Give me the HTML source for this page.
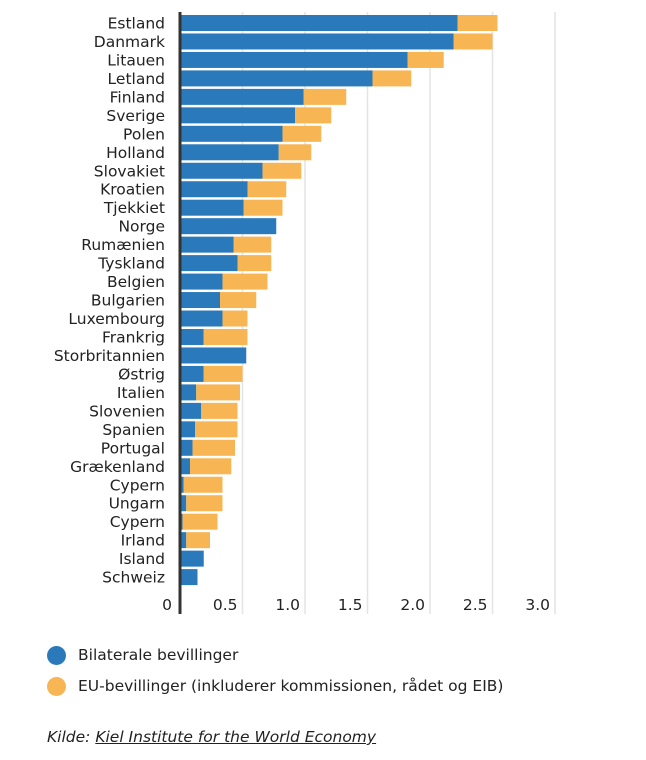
<!DOCTYPE html>
<html><head><meta charset="utf-8"><style>
body{margin:0;width:646px;height:760px;background:#fff;font-family:"DejaVu Sans","Liberation Sans",sans-serif;color:#222;overflow:hidden}
</style></head><body>
<svg id="chart" width="646" height="620" style="position:absolute;left:0;top:0;font-family:'DejaVu Sans','Liberation Sans',sans-serif"></svg>
<div style="position:absolute;left:47px;top:643px;font-size:15.5px">
 <div style="display:flex;align-items:center;height:24px"><span style="width:19px;height:19px;border-radius:50%;background:#2a7abb;display:inline-block;margin-right:12px"></span>Bilaterale bevillinger</div>
 <div style="display:flex;align-items:center;height:24px;margin-top:7px"><span style="width:19px;height:19px;border-radius:50%;background:#f8b553;display:inline-block;margin-right:12px"></span>EU-bevillinger (inkluderer kommissionen, rådet og EIB)</div>
</div>
<div style="position:absolute;left:47px;top:728px;font-size:15.5px;font-style:italic">Kilde: <span style="text-decoration:underline">Kiel Institute for the World Economy</span></div>
<script>
const categories=["Estland","Danmark","Litauen","Letland","Finland","Sverige","Polen","Holland","Slovakiet","Kroatien","Tjekkiet","Norge","Rumænien","Tyskland","Belgien","Bulgarien","Luxembourg","Frankrig","Storbritannien","Østrig","Italien","Slovenien","Spanien","Portugal","Grækenland","Cypern","Ungarn","Cypern","Irland","Island","Schweiz"];
const bilateral=[2.22,2.19,1.82,1.54,0.99,0.92,0.82,0.79,0.66,0.54,0.51,0.77,0.43,0.46,0.34,0.32,0.34,0.19,0.53,0.19,0.13,0.17,0.12,0.10,0.08,0.03,0.05,0.02,0.05,0.19,0.14];
const eu=[0.32,0.31,0.29,0.31,0.34,0.29,0.31,0.26,0.31,0.31,0.31,0,0.30,0.27,0.36,0.29,0.20,0.35,0,0.31,0.35,0.29,0.34,0.34,0.33,0.31,0.29,0.28,0.19,0,0];
const ticks=[0,0.5,1.0,1.5,2.0,2.5,3.0];
const tickLabels=["0","0.5","1.0","1.5","2.0","2.5","3.0"];
const NS="http://www.w3.org/2000/svg",svg=document.getElementById('chart');
const x0=180,scale=125,y0=23,step=18.47,bh=16;
const X=v=>x0+v*scale, Y=i=>y0+i*step;
function mk(t,a){const e=document.createElementNS(NS,t);for(const k in a)e.setAttribute(k,a[k]);svg.appendChild(e);return e;}
ticks.forEach((t,i)=>{
 if(t>0){const g=mk('line',{x1:X(t),x2:X(t),y1:12,y2:614,stroke:'#e4e4e4','stroke-width':1.5});
 
 }
 const l=mk('text',{x:t>0?X(t)-5:X(t)-8,y:610,'text-anchor':'end','font-size':15.5,fill:'#222'});
 
 
 l.textContent=tickLabels[i];
});
categories.forEach((c,i)=>{
 const y=Y(i);
 const b=mk('rect',{x:X(0),y:y-bh/2,width:X(bilateral[i])-X(0),height:bh,fill:'#2a7abb'});
 
 
 if(eu[i]>0){const e=mk('rect',{x:X(bilateral[i]),y:y-bh/2,width:X(bilateral[i]+eu[i])-X(bilateral[i]),height:bh,fill:'#f8b553'});
 
 }
 const t=mk('text',{x:165,y:y+5.5,'text-anchor':'end','font-size':15.5,fill:'#222'});
 
 
 t.textContent=c;
});
const ax=mk('line',{x1:180,x2:180,y1:12,y2:614,stroke:'#333','stroke-width':3});


</script>
</body></html>
